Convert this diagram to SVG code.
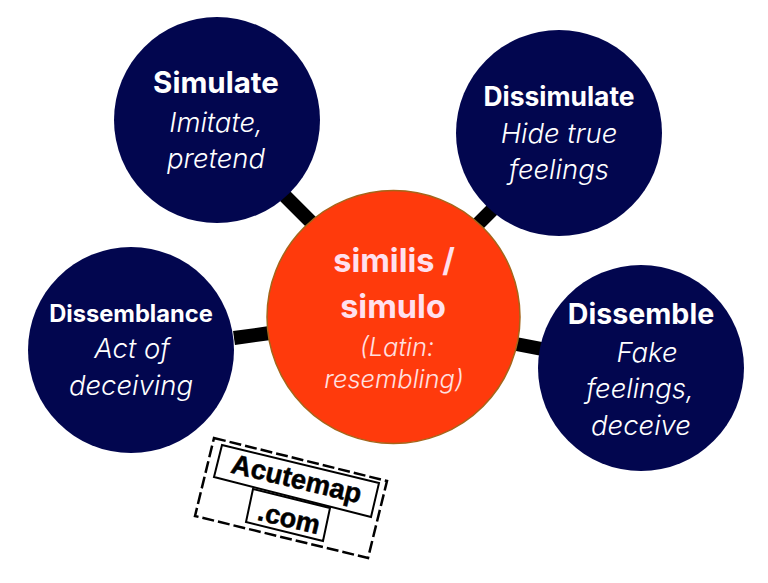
<svg xmlns="http://www.w3.org/2000/svg" width="768" height="583" viewBox="0 0 768 583">
<style>
text{font-family:Inter,"Open Sans","Liberation Sans",sans-serif;text-anchor:middle}
.n{fill:#02064f}
.h{fill:#fff;font-weight:700}
.i{fill:#fff;font-style:italic;font-size:27.500px;font-weight:300}
.ch{fill:#ffe0ee;font-weight:700;font-size:32.500px}
.ci{fill:#ffe0e0;font-style:italic;font-size:25.500px;font-weight:300}
.c{stroke:#000;stroke-width:14;fill:none}
.d{fill:none;stroke:#000;stroke-width:2.500;stroke-dasharray:12 4}
.s{fill:none;stroke:#000;stroke-width:2}
.logo{font-family:"Liberation Sans",Arial,sans-serif;font-weight:700;fill:#000;stroke:#000;stroke-width:.5}
</style>
<rect width="768" height="583" fill="#fff"/>
<g id="connectors">
<line class="c" x1="285" y1="196" x2="312" y2="223"/>
<line class="c" x1="494" y1="208" x2="476" y2="226"/>
<line class="c" x1="234" y1="338" x2="270" y2="333"/>
<line class="c" x1="516" y1="344" x2="542" y2="349"/>
</g>
<g id="center">
<circle cx="393.500" cy="317" r="126.500" fill="#ff3a0c" stroke="#a5651a" stroke-width="1.500"/>
<text class="ch" x="394" y="272">similis /</text>
<text class="ch" x="393" y="318">simulo</text>
<text class="ci" x="397" y="356">(Latin:</text>
<text class="ci" x="394" y="388">resembling)</text>
</g>
<g id="simulate">
<circle class="n" cx="217" cy="120" r="103"/>
<text class="h" x="216" y="93" font-size="29.500">Simulate</text>
<text class="i" x="216" y="132">Imitate,</text>
<text class="i" x="216" y="168">pretend</text>
</g>
<g id="dissimulate">
<circle class="n" cx="559" cy="133" r="103"/>
<text class="h" x="559" y="106" font-size="26.400">Dissimulate</text>
<text class="i" x="559" y="143">Hide true</text>
<text class="i" x="559" y="179">feelings</text>
</g>
<g id="dissemblance">
<circle class="n" cx="131" cy="350" r="103"/>
<text class="h" x="131" y="322" font-size="23.700">Dissemblance</text>
<text class="i" x="132" y="358">Act of</text>
<text class="i" x="131" y="395">deceiving</text>
</g>
<g id="dissemble">
<circle class="n" cx="641" cy="368" r="103"/>
<text class="h" x="641" y="324" font-size="28.600">Dissemble</text>
<text class="i" x="647" y="362">Fake</text>
<text class="i" x="640" y="398">feelings,</text>
<text class="i" x="641" y="435">deceive</text>
</g>
<g id="logo">
<path class="d" d="M214 438 L387 481 L368 558 L195 516 Z"/>
<path class="s" d="M222 445 L379 483 L371 517 L214 477 Z"/>
<path class="s" d="M253 489 L330 508 L323 541 L246 522 Z"/>
<text class="logo" transform="translate(294.500 488) rotate(13.500)" font-size="27.500">Acutemap</text>
<text class="logo" transform="translate(287 527) rotate(13.500)" font-size="27">.com</text>
</g>
</svg>
